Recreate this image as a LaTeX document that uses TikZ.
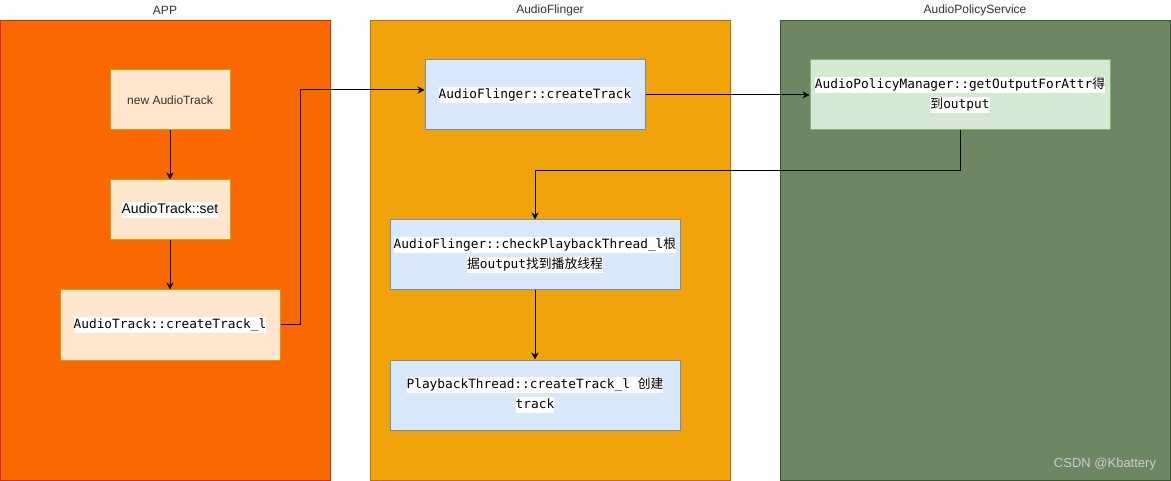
\documentclass[tikz,border=0pt]{standalone}
\usepackage{fontspec}
\setmainfont{Liberation Sans}
\newfontfamily\mono{DejaVu Sans Mono}
\newfontfamily\cjk{Noto Sans CJK SC}
\usetikzlibrary{arrows.meta}
\definecolor{appfill}{HTML}{FA6800}
\definecolor{appdraw}{HTML}{C73500}
\definecolor{affill}{HTML}{F0A30A}
\definecolor{afdraw}{HTML}{BD7000}
\definecolor{apsfill}{HTML}{6D8764}
\definecolor{apsdraw}{HTML}{3A5431}
\definecolor{orfill}{HTML}{FFE6CC}
\definecolor{ordraw}{HTML}{D79B00}
\definecolor{blfill}{HTML}{DAE8FC}
\definecolor{bldraw}{HTML}{6C8EBF}
\definecolor{grfill}{HTML}{D5E8D4}
\definecolor{grdraw}{HTML}{82B366}
\definecolor{titlecol}{HTML}{333333}
\newcommand{\hlt}[1]{{\setlength{\fboxsep}{0pt}\colorbox{white}{\rule[-4pt]{0pt}{15.5pt}#1}}}
\tikzset{
  cont/.style={draw, line width=1pt, anchor=north west, inner sep=0pt},
  ttl/.style={text=titlecol, font=\fontsize{12}{14}\selectfont, inner sep=0pt},
  obox/.style={draw=ordraw, fill=orfill, line width=1pt, inner sep=0pt, align=center},
  bbox/.style={draw=bldraw, fill=blfill, line width=1pt, inner sep=0pt, align=center},
  gbox/.style={draw=grdraw, fill=grfill, line width=1pt, inner sep=0pt, align=center},
  mtxt/.style={font=\mono\fontsize{12.8}{18}\selectfont},
  arr/.style={draw, line width=1pt, -{Stealth[length=7pt,width=7pt]}}
}
\begin{document}
\begin{tikzpicture}[x=1pt,y=-1pt]
\useasboundingbox (0,0) rectangle (1171,481);
% containers
\node[cont, fill=appfill, draw=appdraw, minimum width=330pt, minimum height=460pt] (app) at (0,20) {};
\node[cont, fill=affill, draw=afdraw, minimum width=360pt, minimum height=460pt] (af) at (370,20) {};
\node[cont, fill=apsfill, draw=apsdraw, minimum width=390pt, minimum height=460pt] (aps) at (780,20) {};
\node[ttl] (appt) at (165,10) {APP};
\node[ttl] (aft) at (550,10) {AudioFlinger};
\node[ttl] (apst) at (975,10) {AudioPolicyService};
% APP nodes
\node[obox, minimum width=120pt, minimum height=60pt, font=\fontsize{12}{14}\selectfont, text=titlecol] (nat) at (170,100) {new AudioTrack};
\node[obox, minimum width=120pt, minimum height=60pt, font=\fontsize{14}{16}\selectfont] (set) at (170,210) {\hlt{AudioTrack::set}};
\node[obox, minimum width=220pt, minimum height=70pt, mtxt] (ctl) at (170,325) {\hlt{AudioTrack::createTrack\_l}};
% AudioFlinger nodes
\node[bbox, minimum width=220pt, minimum height=70pt, mtxt] (afct) at (535,95) {\hlt{AudioFlinger::createTrack}};
\node[bbox, minimum width=290pt, minimum height=70pt, mtxt] (chk) at (535,255)
  {\hlt{AudioFlinger::checkPlaybackThread\_l{\cjk 根}}\\[2pt]\hlt{{\cjk 据}output{\cjk 找到播放线程}}};
\node[bbox, minimum width=290pt, minimum height=70pt, mtxt] (pb) at (535,395)
  {\hlt{PlaybackThread::createTrack\_l {\cjk 创建}}\\[2pt]\hlt{track}};
% AudioPolicyService node
\node[gbox, minimum width=300pt, minimum height=70pt, mtxt] (apm) at (960,95)
  {\hlt{AudioPolicyManager::getOutputForAttr{\cjk 得}}\\[2pt]\hlt{{\cjk 到}output}};
% connectors
\draw[arr] (nat) -- (set);
\draw[arr] (set) -- (ctl);
\draw[arr] (ctl.east) -- ++(20,0) |- ([yshift=5pt]afct.west);
\draw[arr] (afct.east) -- (apm.west);
\draw[arr] (apm.south) -- ++(0,40) -| (chk.north);
\draw[arr] (chk) -- (pb);
% watermark
\node[text=white!80!black, font=\fontsize{13}{15}\selectfont, inner sep=0pt] (wm) at (1105,464) {CSDN @Kbattery};
\end{tikzpicture}
\end{document}
